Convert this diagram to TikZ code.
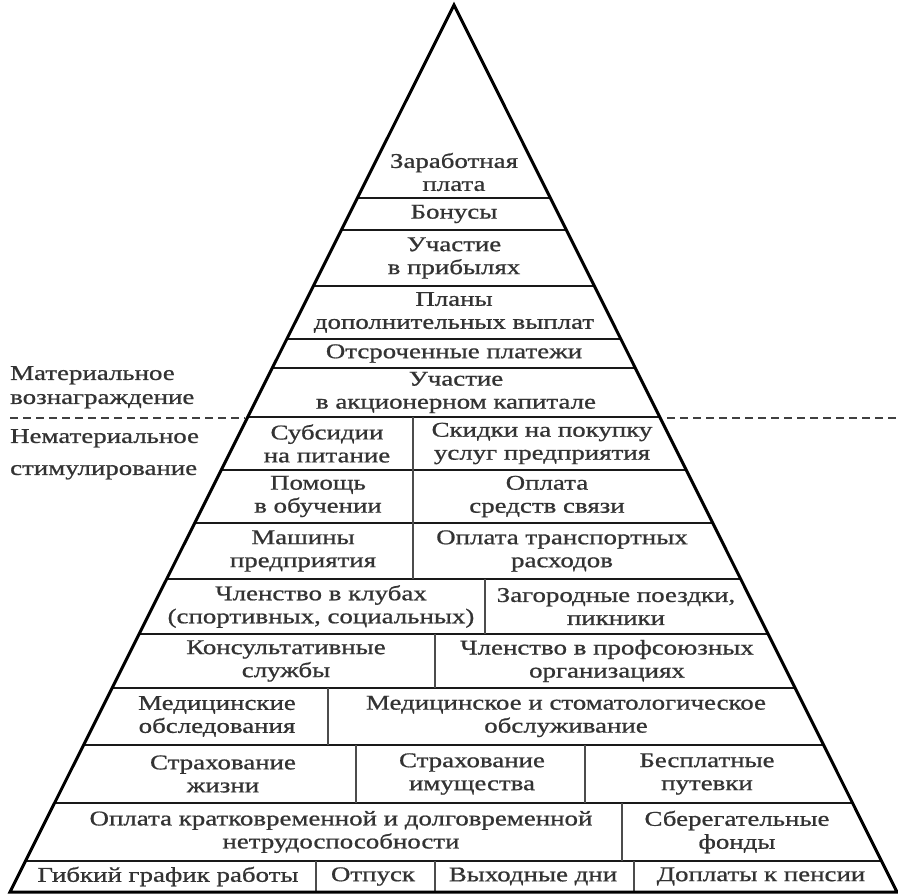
\documentclass[tikz,border=0pt]{standalone}
\usepackage{fontspec}
\setmainfont{Liberation Serif}[FakeStretch=1.28,FakeBold=0.8]
\begin{document}
\begin{tikzpicture}[x=1pt,y=-1pt,
  txt/.style={align=center, font=\fontsize{21}{23}\selectfont, text=black!80, inner sep=0pt},
  side/.style={align=left, font=\fontsize{21}{24}\selectfont, text=black!80, inner sep=0pt, anchor=north west},
  outline/.style={line width=3pt, line join=miter, black},
  hline/.style={line width=2pt, black!90},
  vline/.style={line width=2pt, black!70},
  sep/.style={line width=2pt, black!75, dash pattern=on 8pt off 5pt}]
\useasboundingbox[fill=white] (0,0) rectangle (898,896);
\coordinate (A) at (454,5);
\coordinate (BL) at (10,892);
\coordinate (BR) at (897,892);
\begin{scope}
  \clip (A) -- (BL) -- (BR) -- cycle;
  \foreach \y in {198,230,286,339,368,417,470,523,579,634,688,745,803,861}
    \draw[hline] (0,\y) -- (898,\y);
  \draw[vline] (413,417) -- (413,579);
  \draw[vline] (485,579) -- (485,634);
  \draw[vline] (435,634) -- (435,688);
  \draw[vline] (328,688) -- (328,745);
  \draw[vline] (356,745) -- (356,803);
  \draw[vline] (585,745) -- (585,803);
  \draw[vline] (622,803) -- (622,861);
  \draw[vline] (316,861) -- (316,892);
  \draw[vline] (435,861) -- (435,892);
  \draw[vline] (634,861) -- (634,892);
\end{scope}
\draw[outline] (A) -- (BL) -- (BR) -- cycle;
% dashed separator
\coordinate (dl1) at (10,418);
\coordinate (dl2) at (245,418);
\coordinate (dr1) at (667,418);
\coordinate (dr2) at (896,418);
\draw[sep] (dl1) -- (dl2);
\draw[sep] (dr1) -- (dr2);
% side labels
\node[side] (mat) at (10,366) {Материальное\\вознаграждение};
\node[side, font=\fontsize{21}{32}\selectfont] (nemat) at (10,429) {Нематериальное\\стимулирование};
% material part
\node[txt] (zp) at (454,172) {Заработная\\плата};
\node[txt] (bon) at (454,214) {Бонусы};
\node[txt] (pri) at (454,258) {Участие\\в прибылях};
\node[txt] (plan) at (454,312.5) {Планы\\дополнительных выплат};
\node[txt] (otsr) at (454,353.5) {Отсроченные платежи};
\node[txt] (akc) at (456,392.5) {Участие\\в акционерном капитале};
% non-material part
\node[txt] (sub) at (327,443.5) {Субсидии\\на питание};
\node[txt] (skid) at (542,443.5) {Скидки на покупку\\услуг предприятия};
\node[txt] (pom) at (318,496.5) {Помощь\\в обучении};
\node[txt] (opl) at (547,496.5) {Оплата\\средств связи};
\node[txt] (mash) at (303,551) {Машины\\предприятия};
\node[txt] (trans) at (562,551) {Оплата транспортных\\расходов};
\node[txt] (klub) at (321,606.5) {Членство в клубах\\(спортивных, социальных)};
\node[txt] (zag) at (616,606.5) {Загородные поездки,\\пикники};
\node[txt] (kons) at (286,661) {Консультативные\\службы};
\node[txt] (prof) at (607,661) {Членство в профсоюзных\\организациях};
\node[txt] (medo) at (217,716.5) {Медицинские\\обследования};
\node[txt] (meds) at (566,716.5) {Медицинское и стоматологическое\\обслуживание};
\node[txt] (strzh) at (223,774) {Страхование\\жизни};
\node[txt] (strim) at (472,774) {Страхование\\имущества};
\node[txt] (put) at (707,774) {Бесплатные\\путевки};
\node[txt] (netr) at (341,832) {Оплата кратковременной и долговременной\\нетрудоспособности};
\node[txt] (sber) at (737,832) {Сберегательные\\фонды};
\node[txt] (gib) at (168,876.5) {Гибкий график работы};
\node[txt] (otp) at (373,876.5) {Отпуск};
\node[txt] (vyh) at (533,876.5) {Выходные дни};
\node[txt] (dopl) at (761,876.5) {Доплаты к пенсии};
\end{tikzpicture}
\end{document}
